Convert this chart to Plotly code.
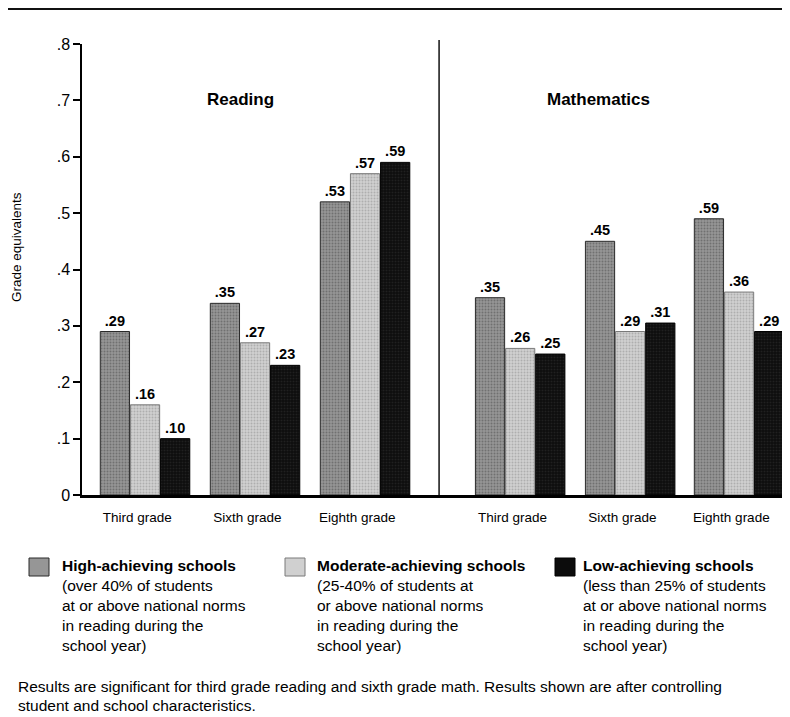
"""
학교 성취도별 학년 성적 향상 (Reading / Mathematics) 막대차트
"""
import plotly.graph_objects as go

# 페이지 body 여백(8px) 만큼 작게 잡는다
OFF = 8
W, H = 790 - OFF, 717 - OFF
# 플롯 영역 (참조 그림 픽셀 기준)
PL, PR, PT, PB = 82, 790, 44, 495

grades = ["Third grade", "Sixth grade", "Eighth grade"]
group_x = [1.0, 2.0, 3.0, 4.41, 5.41, 6.40]

# 막대 높이
high_vals = [0.29, 0.34, 0.52, 0.35, 0.45, 0.49]
mod_vals = [0.16, 0.27, 0.57, 0.26, 0.29, 0.36]
low_vals = [0.10, 0.23, 0.59, 0.25, 0.305, 0.29]

# 막대 위 라벨 (원본 그대로)
high_text = [".29", ".35", ".53", ".35", ".45", ".59"]
mod_text = [".16", ".27", ".57", ".26", ".29", ".36"]
low_text = [".10", ".23", ".59", ".25", ".31", ".29"]

y_ticks = [0, 0.1, 0.2, 0.3, 0.4, 0.5, 0.6, 0.7, 0.8]
y_tick_text = ["0", ".1", ".2", ".3", ".4", ".5", ".6", ".7", ".8"]

panels = ["Reading", "Mathematics"]

legend_items = [
    ("High-achieving schools",
     ["(over 40% of students", "at or above national norms",
      "in reading during the", "school year)"]),
    ("Moderate-achieving schools",
     ["(25-40% of students at", "or above national norms",
      "in reading during the", "school year)"]),
    ("Low-achieving schools",
     ["(less than 25% of students", "at or above national norms",
      "in reading during the", "school year)"]),
]

footnote = [
    "Results are significant for third grade reading and sixth grade math. Results shown are after controlling",
    "student and school characteristics.",
]

FONT = "Liberation Sans, Arial, sans-serif"

styles = [
    dict(bg="#969696", fg="#4a4a4a", line="#2a2a2a"),
    dict(bg="#d0d0d0", fg="#8c8c8c", line="#7a7a7a"),
    dict(bg="#0c0c0c", fg="#333333", line="#000000"),
]


def px_x(p):
    return (p - PL) / (PR - PL)


def px_y(p):
    return (PB - p) / (PB - PT)


fig = go.Figure()

for vals, text, st, name in zip((high_vals, mod_vals, low_vals),
                                (high_text, mod_text, low_text),
                                styles,
                                [item[0] for item in legend_items]):
    fig.add_trace(go.Bar(
        x=group_x, y=vals, text=text, name=name,
        textposition="outside", cliponaxis=False,
        textfont=dict(family=FONT, size=14.5, color="#000000", weight="bold"),
        marker=dict(
            color=st["bg"],
            line=dict(color=st["line"], width=1),
            pattern=dict(shape=".", fgcolor=st["fg"], bgcolor=st["bg"],
                         size=3, solidity=0.35, fillmode="overlay"),
        ),
        showlegend=False,
    ))

# 패널 구분선
fig.add_shape(type="line", xref="x", yref="paper", x0=3.673, x1=3.673,
              y0=0, y1=px_y(40), line=dict(color="#111111", width=1.5))

# 상단 가로줄 (그림 맨 위)
fig.add_shape(type="line", xref="paper", yref="paper", x0=px_x(0), x1=px_x(800),
              y0=px_y(OFF + 1), y1=px_y(OFF + 1), line=dict(color="#111111", width=2))

# 패널 제목
for title, cx in zip(panels, (1.87, 5.12)):
    fig.add_annotation(x=cx, y=px_y(88), xref="x", yref="paper", text=title,
                       showarrow=False, xanchor="center",
                       font=dict(family=FONT, size=17, color="#000000", weight="bold"))

# y축 제목
fig.add_annotation(x=px_x(17), y=px_y(247), xref="paper", yref="paper",
                   text="Grade equivalents", textangle=-90, showarrow=False,
                   xanchor="center", yanchor="middle",
                   font=dict(family=FONT, size=13.5, color="#000000"))

# 범례 (아래쪽)
legend_box_x = [29, 285, 555]
legend_text_x = [61, 316, 582]
for (head, lines), bx, tx, st in zip(legend_items, legend_box_x, legend_text_x, styles):
    fig.add_shape(type="rect", xref="paper", yref="paper",
                  x0=px_x(bx), x1=px_x(bx + 20), y0=px_y(576), y1=px_y(558),
                  fillcolor=st["bg"], line=dict(color=st["line"], width=1))
    fig.add_annotation(x=px_x(tx - 1), y=px_y(565), xref="paper", yref="paper",
                       text=head, showarrow=False, xanchor="left", yanchor="middle",
                       font=dict(family=FONT, size=15.5, color="#000000", weight="bold"))
    for i, ln in enumerate(lines):
        fig.add_annotation(x=px_x(tx - 1), y=px_y(585 + 20 * i), xref="paper", yref="paper",
                           text=ln, showarrow=False, xanchor="left", yanchor="middle",
                           font=dict(family=FONT, size=15.5, color="#000000"))

# 각주
for i, ln in enumerate(footnote):
    fig.add_annotation(x=px_x(16), y=px_y(686 + 19 * i), xref="paper", yref="paper",
                       text=ln, showarrow=False, xanchor="left", yanchor="middle",
                       font=dict(family=FONT, size=15.5, color="#000000"))

fig.update_layout(
    width=W, height=H,
    barmode="group", bargap=0.17, bargroupgap=0.03,
    paper_bgcolor="#ffffff", plot_bgcolor="#ffffff",
    font=dict(family=FONT, color="#000000"),
    margin=dict(l=PL - OFF, r=790 - PR, t=PT - OFF, b=717 - PB),
)
fig.update_xaxes(
    range=[0.427, 6.863],
    tickmode="array", tickvals=[g - 0.07 for g in group_x], ticktext=grades * 2,
    ticks="outside", ticklen=8, tickcolor="rgba(0,0,0,0)",
    showgrid=False, zeroline=False,
    showline=True, linecolor="#000000", linewidth=2.5,
    tickfont=dict(family=FONT, size=13.5, color="#000000"),
)
fig.update_yaxes(
    range=[0, 0.8],
    tickmode="array", tickvals=y_ticks, ticktext=y_tick_text,
    ticks="outside", ticklen=7, tickcolor="#000000", tickwidth=1.5,
    showgrid=False, zeroline=False,
    showline=True, linecolor="#000000", linewidth=1.5,
    tickfont=dict(family=FONT, size=16, color="#000000"),
)

fig.write_html("out.html")
